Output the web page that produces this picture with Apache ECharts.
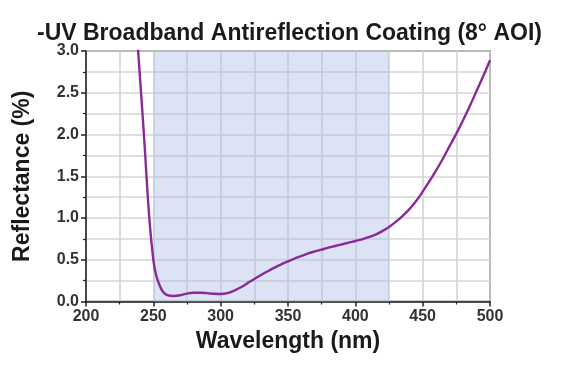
<!DOCTYPE html>
<html><head><meta charset="utf-8">
<script src="https://cdn.jsdelivr.net/npm/echarts@6/dist/echarts.min.js"></script>
<style>html,body{margin:0;padding:0;background:#fff;}#c{width:570px;height:375px;}</style>
</head><body><div id="c"></div>
<script>
const titleText = "-UV Broadband Antireflection Coating (8° AOI)";
const xName = "Wavelength (nm)";
const yName = "Reflectance (%)";
const bandStart = 250;
const bandEnd = 425;
const wavelengths = [238.5,243,247,250,252,254.5,257,260,265,270,275,280,285,290,295,300,305,310,315,320,325,330,335,340,345,350,355,360,365,370,375,380,385,390,395,400,405,410,415,420,425,430,435,440,445,450,455,460,465,470,475,480,485,490,495,500];
const reflectance = [3.05,2.0,1.0,0.5,0.32,0.2,0.12,0.08,0.066,0.075,0.095,0.105,0.105,0.1,0.092,0.09,0.1,0.13,0.17,0.22,0.27,0.317,0.362,0.405,0.445,0.48,0.515,0.545,0.575,0.6,0.622,0.645,0.665,0.685,0.705,0.725,0.745,0.77,0.8,0.843,0.893,0.953,1.023,1.103,1.2,1.315,1.44,1.57,1.71,1.86,2.01,2.17,2.34,2.52,2.7,2.89];

const chart = echarts.init(document.getElementById('c'), null, {renderer:'canvas'});
const font = 'Liberation Sans';
chart.setOption({
  animation:false,
  backgroundColor:'#fff',
  title:{text:titleText,left:32,top:17,textStyle:{fontFamily:font,fontSize:23,fontWeight:'bold',color:'#1a1a1a'}},
  grid:{left:86,right:80,top:51,bottom:73.5,show:true,borderColor:'#333',borderWidth:1.5,backgroundColor:'#fff'},
  xAxis:{type:'value',min:200,max:500,interval:50,
    name:xName,nameLocation:'middle',nameGap:29,
    nameTextStyle:{fontFamily:font,fontSize:23,fontWeight:'bold',color:'#1a1a1a'},
    axisLine:{show:true,lineStyle:{color:'#222',width:1.5}},
    axisTick:{show:true,length:5,lineStyle:{color:'#222',width:1.5}},
    minorTick:{show:true,splitNumber:2,length:3,lineStyle:{color:'#222',width:1.2}},
    axisLabel:{fontFamily:font,fontSize:16,fontWeight:'bold',color:'#333',margin:7},
    splitLine:{show:true,lineStyle:{color:'#d4d4d4',width:1.6}},
    minorSplitLine:{show:true,lineStyle:{color:'#d4d4d4',width:1.6}}
  },
  yAxis:{type:'value',min:0,max:3,interval:0.5,
    name:yName,nameLocation:'middle',nameGap:52,
    nameTextStyle:{fontFamily:font,fontSize:23,fontWeight:'bold',color:'#1a1a1a'},
    axisLine:{show:true,lineStyle:{color:'#222',width:1.5}},
    axisTick:{show:true,length:5,lineStyle:{color:'#222',width:1.5}},
    minorTick:{show:true,splitNumber:2,length:3,lineStyle:{color:'#222',width:1.2}},
    axisLabel:{fontFamily:font,fontSize:16,fontWeight:'bold',color:'#333',margin:7,formatter:v=>v.toFixed(1)},
    splitLine:{show:true,lineStyle:{color:'#d4d4d4',width:1.6}},
    minorSplitLine:{show:true,lineStyle:{color:'#d4d4d4',width:1.6}}
  },
  series:[{
    type:'line',smooth:0.4,symbol:'none',clip:true,
    data:wavelengths.map((w,i)=>[w,reflectance[i]]),
    lineStyle:{color:'#8a2a98',width:2.4},
    markArea:{silent:true,itemStyle:{color:'rgba(170,188,232,0.42)'},data:[[{xAxis:bandStart},{xAxis:bandEnd}]]},
    z:3
  }]
});
</script></body></html>
